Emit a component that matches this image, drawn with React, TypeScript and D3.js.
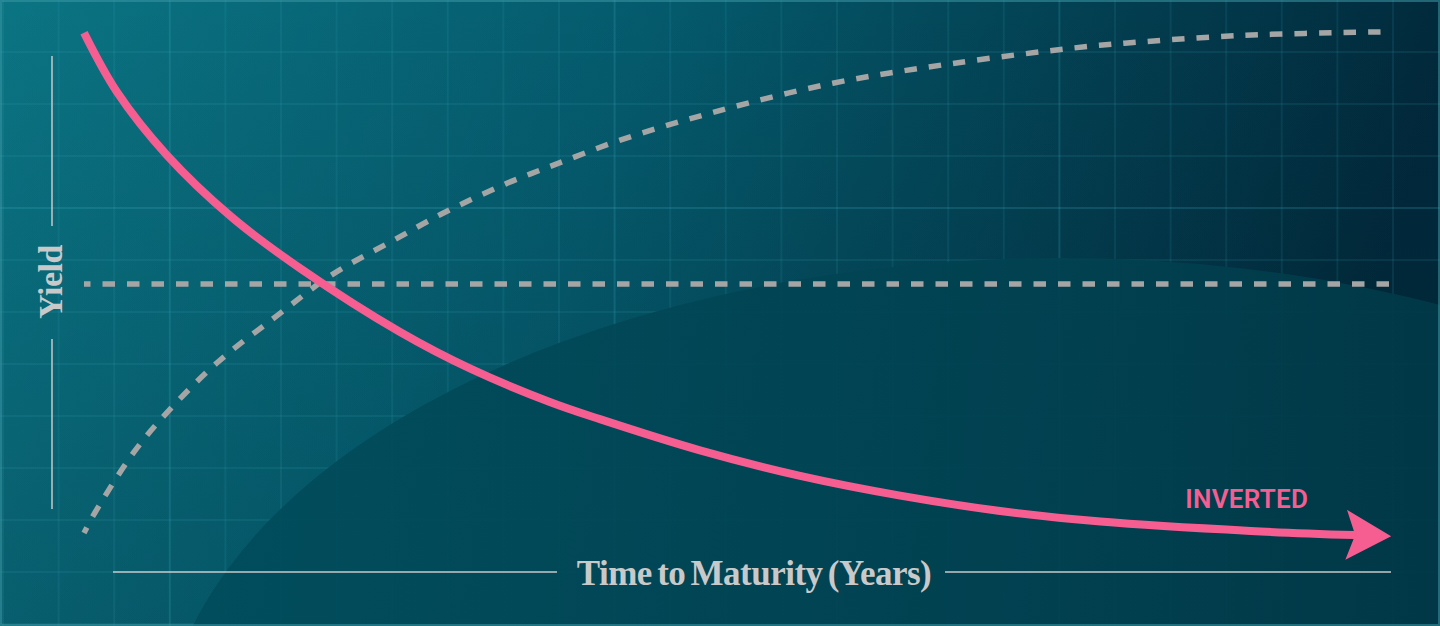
import React from 'react';
import * as d3 from 'd3';

// chart size
const W = 1440;
const H = 626;

// Inverted curve (pink, arrow at the end)
const invertedYears = [0, 0.75, 1.9, 3.4, 5, 7.25, 8.9, 10.7, 11.85, 14.15, 16.45, 18.75, 21, 23.35, 26.8, 29.2];
const invertedYield = [9.85, 8.72, 7.5, 6.3, 5.3, 4.1, 3.38, 2.75, 2.42, 1.82, 1.33, 0.95, 0.66, 0.45, 0.27, 0.19];

// Normal curve (gray dashed)
const normalYears = [0, 0.25, 1.15, 1.9, 3.05, 4.45, 5.7, 7.2, 8.2, 9.7, 10.8, 12.3, 14.45, 17.2, 19.95, 22.75, 23.9, 26.6, 30];
const normalYield = [0.23, 0.62, 1.79, 2.54, 3.5, 4.42, 5.2, 5.9, 6.36, 6.95, 7.31, 7.78, 8.32, 8.88, 9.26, 9.56, 9.65, 9.8, 9.87];

// Flat curve (gray dashed)
const flatYears = [0, 30];
const flatYield = [5.02, 5.02];

const xTitle = 'Time to Maturity (Years)';
const yTitle = 'Yield';
const curveLabel = 'INVERTED';

const PINK = '#f65e91';
const GRAY = '#a5a5a5';
const TEXT = '#c9c9c9';

type Pt = [number, number];
const zip = (a: number[], b: number[]): Pt[] => a.map((v, i) => [v, b[i]]);

export default function App() {
  const x = d3.scaleLinear().domain([0, 30]).range([84, 1390]);
  const y = d3.scaleLinear().domain([0, 10]).range([545, 25]);

  const line = d3.line<Pt>()
    .x(d => x(d[0]))
    .y(d => y(d[1]))
    .curve(d3.curveCatmullRom.alpha(0.5));

  // background grid
  const gridX = d3.range(0, 27).map(i => 3 + i * 55.6);
  const gridY = d3.range(1, 13).map(i => i * 52);
  const majorX = [170, 615, 1059];
  const majorY = [208];

  const last = invertedYears.length - 1;

  return (
    <div style={{ position: 'fixed', left: 0, top: 0, width: W, height: H }}>
      <svg width={W} height={H} style={{ display: 'block' }}>
        <defs>
          <linearGradient id="bg" x1="0" y1="0" x2="1" y2="0.15">
            <stop offset="0" stopColor="#0b7483" />
            <stop offset="0.45" stopColor="#045a6c" />
            <stop offset="1" stopColor="#01293b" />
          </linearGradient>
          <linearGradient id="shade" x1="0" y1="0" x2="0" y2="1">
            <stop offset="0" stopColor="#00202c" stopOpacity="0" />
            <stop offset="1" stopColor="#00202c" stopOpacity="0.18" />
          </linearGradient>
          <linearGradient id="blob" x1="0" y1="0" x2="1" y2="0">
            <stop offset="0" stopColor="#014d5d" />
            <stop offset="0.55" stopColor="#01404f" />
            <stop offset="1" stopColor="#012c3b" />
          </linearGradient>
          <marker id="arrow" viewBox="0 -25 45 50" markerWidth={45} markerHeight={50}
            refX={9} refY={0} orient="auto" markerUnits="userSpaceOnUse">
            <path d="M0,-25 L45,0 L0,25 L9,0 Z" fill={PINK} />
          </marker>
        </defs>

        <rect x={0} y={0} width={W} height={H} fill="url(#bg)" />
        <rect x={0} y={0} width={W} height={H} fill="url(#shade)" />

        <g stroke="#40b4c6" strokeWidth={2}>
          {gridX.map(gx => (
            <line key={'gx' + gx} x1={gx} x2={gx} y1={0} y2={H}
              strokeOpacity={majorX.some(m => Math.abs(m - gx) < 4) ? 0.2 : 0.11} />
          ))}
          {gridY.map(gy => (
            <line key={'gy' + gy} x1={0} x2={W} y1={gy} y2={gy}
              strokeOpacity={majorY.includes(gy) ? 0.2 : 0.11} />
          ))}
        </g>

        <ellipse cx={1060} cy={760} rx={900} ry={502} fill="url(#blob)" opacity={0.93} />

        <rect x={1} y={1} width={W - 2} height={H - 2} fill="none" stroke="#3d98a4" strokeOpacity={0.55} strokeWidth={2} />

        {/* axis titles */}
        <line x1={52} x2={52} y1={56} y2={226} stroke={TEXT} strokeWidth={1.5} />
        <line x1={52} x2={52} y1={339} y2={509} stroke={TEXT} strokeWidth={1.5} />
        <text transform="translate(62,282) rotate(-90)" textAnchor="middle"
          fontFamily="'Liberation Serif', 'DejaVu Serif', serif" fontWeight="bold"
          fontSize={34} letterSpacing={-0.5} fill={TEXT}>{yTitle}</text>

        <line x1={113} x2={557} y1={572} y2={572} stroke={TEXT} strokeWidth={1.5} />
        <line x1={945} x2={1391} y1={572} y2={572} stroke={TEXT} strokeWidth={1.5} />
        <text x={754} y={585} textAnchor="middle"
          fontFamily="'Liberation Serif', 'DejaVu Serif', serif" fontWeight="bold"
          fontSize={35} letterSpacing={-0.5} wordSpacing={-3} fill={TEXT}>{xTitle}</text>

        {/* curves */}
        <path d={line(zip(flatYears, flatYield)) || ''} fill="none" stroke={GRAY}
          strokeWidth={5.5} strokeDasharray="12.5 12" strokeDashoffset={6} />
        <path d={line(zip(normalYears, normalYield)) || ''} fill="none" stroke={GRAY}
          strokeWidth={5.5} strokeDasharray="12.5 12" strokeDashoffset={6} />
        <path d={line(zip(invertedYears, invertedYield)) || ''} fill="none" stroke={PINK}
          strokeWidth={8} markerEnd="url(#arrow)" />

        <text x={x(invertedYears[last]) - 170} y={y(invertedYield[last]) - 27}
          fontFamily="Roboto, 'DejaVu Sans', sans-serif" fontWeight={600}
          fontSize={26} letterSpacing={0.3} fill={PINK}>{curveLabel}</text>
      </svg>
    </div>
  );
}
